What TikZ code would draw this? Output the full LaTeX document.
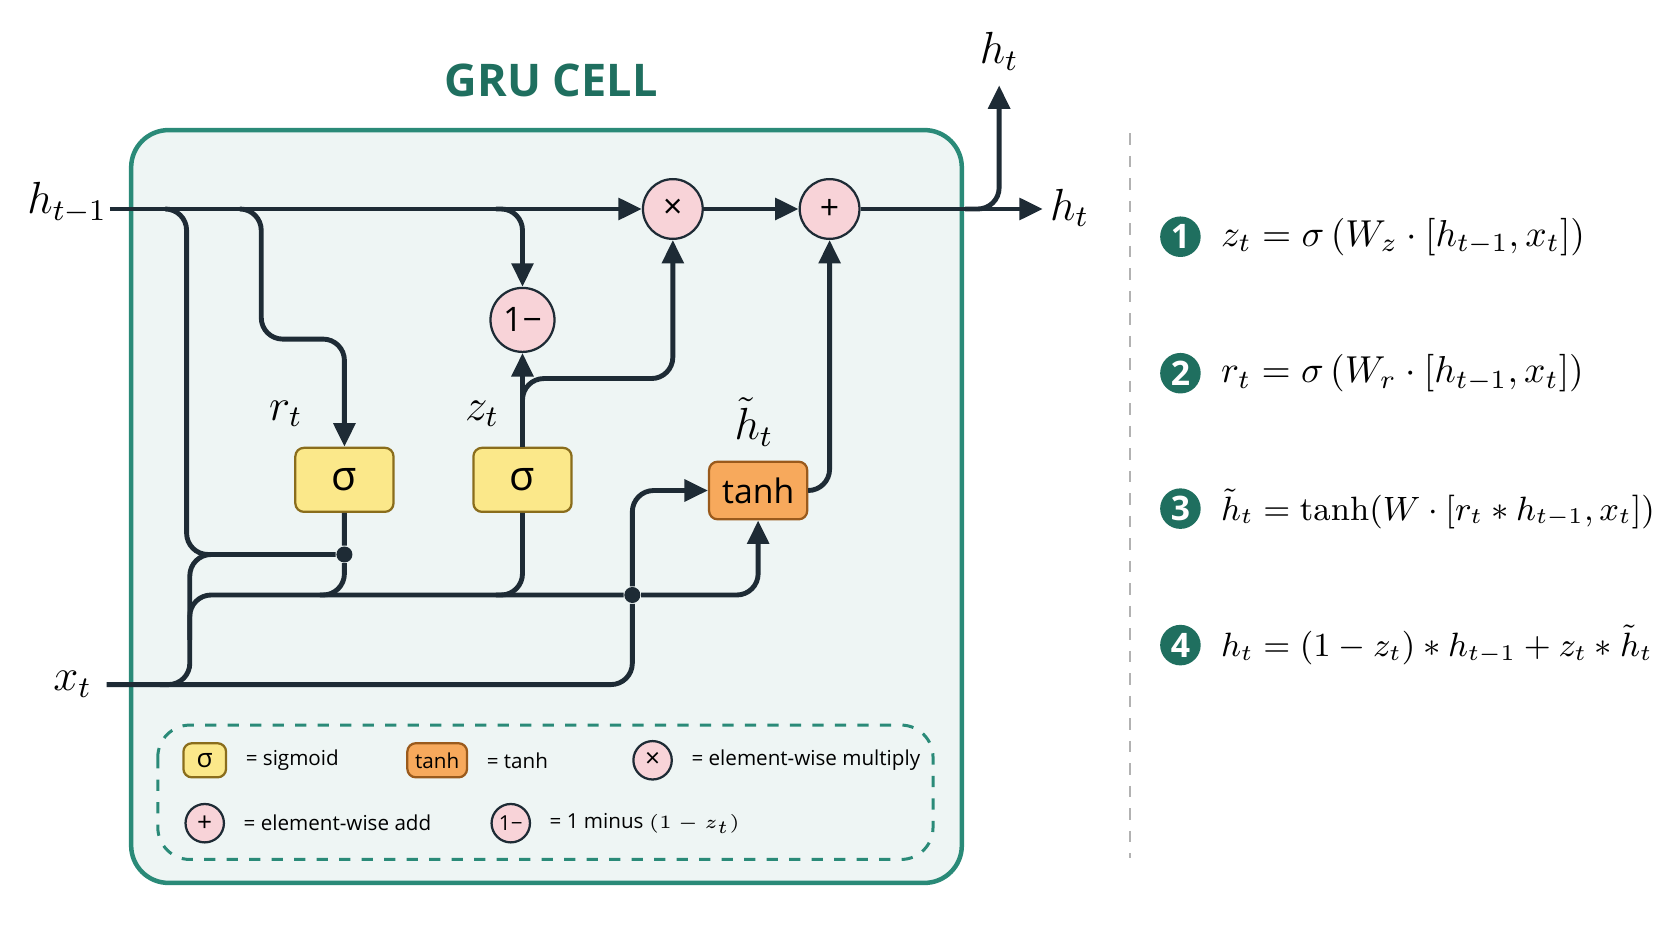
\documentclass[tikz,border=0pt]{standalone}
\usepackage{fontspec}
\setsansfont{Open Sans}
\usetikzlibrary{positioning,arrows.meta}
\definecolor{teal1}{HTML}{1F6F5F}
\definecolor{tealbox}{HTML}{2A8A78}
\definecolor{cellbg}{HTML}{EEF5F4}
\definecolor{wire}{HTML}{1E2B35}
\definecolor{sigfill}{HTML}{FBE88A}
\definecolor{sigdraw}{HTML}{8A6D1C}
\definecolor{tanfill}{HTML}{F7A95C}
\definecolor{tandraw}{HTML}{9A5A1C}
\definecolor{opfill}{HTML}{F8D3D8}
\tikzset{
  wire/.style={draw=wire, line width=1.3pt, rounded corners=0.2cm},
  arr/.style={wire, -{Triangle[length=0.22cm,width=0.2cm]}},
  sig/.style={draw=sigdraw, fill=sigfill, rounded corners=0.08cm, minimum width=0.92cm, minimum height=0.6cm, font=\sffamily\fontsize{11}{11}\selectfont, line width=0.6pt},
  tanhbox/.style={draw=tandraw, fill=tanfill, rounded corners=0.08cm, minimum width=0.92cm, minimum height=0.54cm, font=\sffamily\fontsize{9}{9}\selectfont, line width=0.6pt},
  op/.style={circle, draw=wire, fill=opfill, minimum size=0.56cm, inner sep=0pt, font=\sffamily\fontsize{9}{9}\selectfont, line width=0.6pt},
  lbl/.style={font=\fontsize{12}{12}\selectfont},
  num/.style={circle, fill=teal1, text=white, minimum size=0.38cm, inner sep=0pt, font=\sffamily\bfseries\fontsize{9}{9}\selectfont},
  eq/.style={anchor=west, font=\fontsize{9.6}{9.6}\selectfont},
  leg/.style={anchor=west, font=\sffamily\fontsize{5.5}{5.5}\selectfont},
  dot/.style={circle, fill=wire, minimum size=0.15cm, inner sep=0pt}
}
\begin{document}
\begin{tikzpicture}[x=0.01cm,y=-0.01cm]
    \useasboundingbox (0,0) rectangle (1568,882);
    \fill[white] (0,0) rectangle (1568,882);

    % cell
    \draw[tealbox, fill=cellbg, line width=1.2pt, rounded corners=0.35cm] (123,122) rectangle (902,828);
    \node[font=\sffamily\bfseries\fontsize{12}{12}\selectfont, text=teal1] (title) at (517,75) {GRU CELL};

    % gates
    \node[sig] (sr) at (323,450) {σ};
    \node[sig] (sz) at (490,450) {σ};
    \node[tanhbox] (th) at (711,460) {tanh};
    \node[op] (mul) at (631,196) {×};
    \node[op] (add) at (778,196) {+};
    \node[op, minimum size=0.6cm] (om) at (490,300) {1−};
    \node[lbl] (rt) at (268,388) {$r_t$};
    \node[lbl] (zt) at (452,388) {$z_t$};
    \node[lbl] (htl) at (707,396) {$\tilde h_t$};

    % inputs and outputs
    \node[lbl] (hin) at (63,190) {$h_{t-1}$};
    \node[lbl] (xin) at (68,642) {$x_t$};
    \node[lbl] (hout) at (1003,195) {$h_t$};
    \node[lbl] (hup) at (937,48) {$h_t$};
    \coordinate (hstart) at (103,196);
    \coordinate (xstart) at (100,642);
    \node[dot] (jr) at (323,520) {};
    \node[dot] (jx) at (593,558) {};

    \draw[arr] (hstart) -- (mul);
    \draw[arr] (mul) -- (add);
    \draw[arr] (add) -- (978,196);
    \draw[arr] (905,196) -- (937,196) -- (937,80);
    \draw[wire] (155,196) -- (175,196) -- (175,520) -- (jr);
    \draw[arr] (225,196) -- (245,196) -- (245,318) -- (323,318) -- (sr);
    \draw[arr] (465,196) -- (490,196) -- (om);
    \draw[arr] (sz) -- (om);
    \draw[arr] (490,375) -- (490,355) -- (631,355) -- (mul);
    \draw[arr] (th.east) -- (778,460) -- (add);
    \draw[wire] (sr) -- (jr) -- (323,558) -- (300,558);
    \draw[wire] (sz) -- (490,558) -- (465,558);
    \draw[wire] (xstart) -- (178,642) -- (178,520) -- (200,520);
    \draw[arr] (178,600) -- (178,558) -- (jx) -- (711,558) -- (th);
    \draw[wire] (150,642) -- (593,642) -- (jx);
    \draw[arr] (jx) -- (593,460) -- (th);

    % legend
    \draw[tealbox, dashed, line width=0.8pt, rounded corners=0.3cm] (148,680) rectangle (875,806);
    \node[sig, minimum width=0.4cm, minimum height=0.32cm, inner sep=1pt, font=\sffamily\fontsize{7}{7}\selectfont] (ls) at (192,713) {σ};
    \node[leg, right=0.05cm of ls] {= sigmoid};
    \node[tanhbox, minimum width=0.56cm, minimum height=0.32cm, inner sep=1pt, font=\sffamily\fontsize{5.5}{5.5}\selectfont] (lt) at (410,713) {tanh};
    \node[leg, right=0.05cm of lt] {= tanh};
    \node[op, minimum size=0.36cm, font=\sffamily\fontsize{7}{7}\selectfont] (lm) at (612,713) {×};
    \node[leg, right=0.05cm of lm] {= element-wise multiply};
    \node[op, minimum size=0.36cm, font=\sffamily\fontsize{7}{7}\selectfont] (la) at (192,772) {+};
    \node[leg, right=0.05cm of la] {= element-wise add};
    \node[op, minimum size=0.36cm, font=\sffamily\fontsize{5.5}{5.5}\selectfont] (lo) at (479,772) {1−};
    \node[leg, right=0.05cm of lo] {= 1 minus $(1-z_t)$};

    % equations
    \draw[gray!60, dashed, line width=0.6pt] (1060,125) -- (1060,805);
    \node[num] (n1) at (1107,222) {1};
    \node[eq, right=0.06cm of n1] {$z_t=\sigma\left(W_z\cdot[h_{t-1},x_t]\right)$};
    \node[num] (n2) at (1107,350) {2};
    \node[eq, right=0.06cm of n2] {$r_t=\sigma\left(W_r\cdot[h_{t-1},x_t]\right)$};
    \node[num] (n3) at (1107,477) {3};
    \node[eq, right=0.06cm of n3, font=\fontsize{9}{9}\selectfont] {$\tilde h_t=\tanh\!\left(W\cdot[r_t*h_{t-1},x_t]\right)$};
    \node[num] (n4) at (1107,605) {4};
    \node[eq, right=0.06cm of n4, font=\fontsize{9}{9}\selectfont] {$h_t=(1-z_t)*h_{t-1}+z_t*\tilde h_t$};
\end{tikzpicture}
\end{document}
